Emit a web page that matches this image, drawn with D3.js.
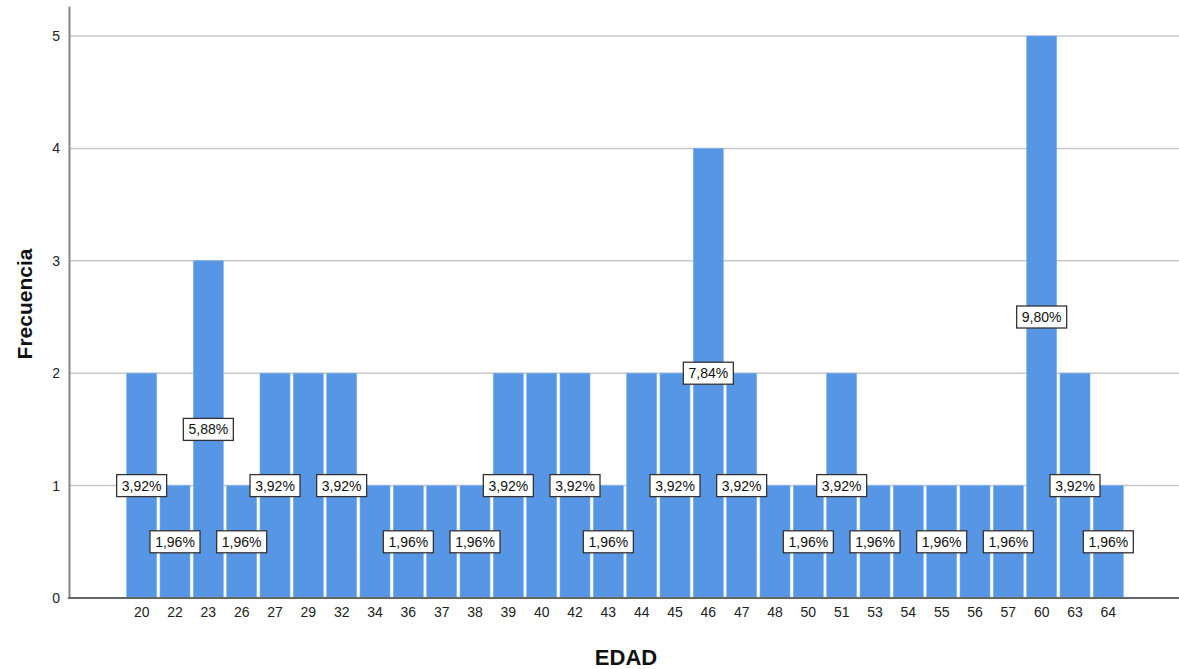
<!DOCTYPE html>
<html><head><meta charset="utf-8">
<script src="https://cdn.jsdelivr.net/npm/d3@7"></script>
<style>body{margin:0;background:#fff;}svg{display:block;font-family:Arial,"Liberation Sans",sans-serif;}</style>
</head><body><svg id="c" width="1179" height="669"></svg>
<script>
const categories = ["20","22","23","26","27","29","32","34","36","37","38","39","40","42","43","44","45","46","47","48","50","51","53","54","55","56","57","60","63","64"];
const frequencies = [2,1,3,1,2,2,2,1,1,1,1,2,2,2,1,2,2,4,2,1,1,2,1,1,1,1,1,5,2,1];
const labelShown = [1,1,1,1,1,0,1,0,1,0,1,1,0,1,1,0,1,1,1,0,1,1,1,0,1,0,1,1,1,1];
const yTicks = [0,1,2,3,4,5];
const total = d3.sum(frequencies);

const svg = d3.select("#c");
const x = d3.scaleBand().domain(categories).range([125,1125]).paddingInner(0.1).paddingOuter(0.05);
const y = d3.scaleLinear().domain([0,5.267]).range([598,6]);
const x0 = 69, x1 = 1179;

// gridlines
svg.append("g").selectAll("line").data(yTicks.filter(d=>d>0)).join("line")
  .attr("x1",x0).attr("x2",x1).attr("y1",d=>y(d)).attr("y2",d=>y(d))
  .attr("stroke","#c8c8c8").attr("stroke-width",1.5);

// bars
svg.append("g").selectAll("rect").data(categories).join("rect")
  .attr("x",d=>x(d)).attr("width",x.bandwidth())
  .attr("y",(d,i)=>y(frequencies[i])).attr("height",(d,i)=>y(0)-y(frequencies[i]))
  .attr("fill","#5795e5").attr("stroke","#7aaef0").attr("stroke-width",0.6);

// y axis
const yAxis = svg.append("g").attr("transform",`translate(${x0},0)`)
  .call(d3.axisLeft(y).tickValues(yTicks).tickFormat(d3.format("d")).tickSize(0).tickPadding(9));
yAxis.select(".domain").attr("stroke","#888").attr("stroke-width",2);
yAxis.selectAll("text").attr("font-size",14).attr("fill","#222").attr("font-family","Arial,'Liberation Sans',sans-serif");

// x axis
const xAxis = svg.append("g").attr("transform",`translate(0,${y(0)})`)
  .call(d3.axisBottom(x).tickSize(0).tickPadding(9));
xAxis.select(".domain").remove();
xAxis.selectAll("text").attr("font-size",14).attr("fill","#222").attr("font-family","Arial,'Liberation Sans',sans-serif");
svg.append("line").attr("x1",x0-1).attr("x2",x1).attr("y1",y(0)).attr("y2",y(0)).attr("stroke","#666").attr("stroke-width",2);

// labels
const lab = svg.append("g").selectAll("g").data(categories.map((c,i)=>({c,i})).filter(d=>labelShown[d.i])).join("g")
  .attr("transform",d=>`translate(${x(d.c)+x.bandwidth()/2},${y(frequencies[d.i]/2)})`);
lab.append("rect").attr("x",-25).attr("y",-11).attr("width",50).attr("height",22)
  .attr("fill","#fff").attr("stroke","#333").attr("stroke-width",1.3);
lab.append("text").attr("text-anchor","middle").attr("dy","0.36em").attr("font-size",14).attr("fill","#111")
  .text(d=>(frequencies[d.i]/total*100).toFixed(2).replace(".",",")+"%");

// titles
svg.append("text").attr("x",626).attr("y",665).attr("text-anchor","middle")
  .attr("font-size",22).attr("font-weight","bold").attr("fill","#111").text("EDAD");
svg.append("text").attr("transform","translate(32,304) rotate(-90)").attr("text-anchor","middle")
  .attr("font-size",21).attr("font-weight","bold").attr("fill","#111").text("Frecuencia");
</script></body></html>
